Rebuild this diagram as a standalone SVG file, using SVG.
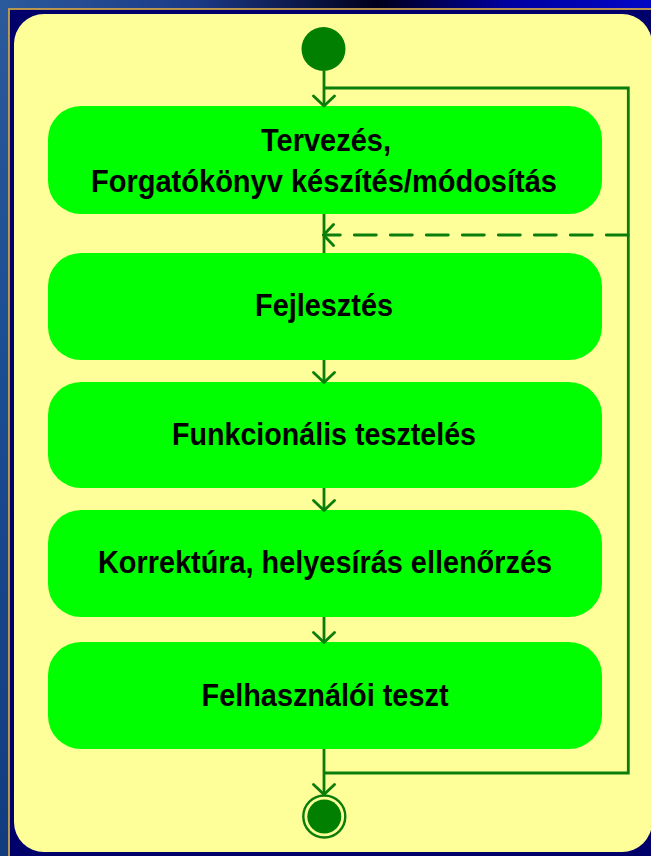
<svg xmlns="http://www.w3.org/2000/svg" width="651" height="856" viewBox="0 0 651 856">
<defs>
<linearGradient id="bgTop" x1="0" y1="0" x2="1" y2="0">
<stop offset="0" stop-color="#2a5a9c"/>
<stop offset="0.3" stop-color="#1c3a86"/>
<stop offset="0.58" stop-color="#00001c"/>
<stop offset="0.78" stop-color="#0000a0"/>
<stop offset="1" stop-color="#0008c4"/>
</linearGradient>
<linearGradient id="bgLeft" x1="0" y1="0" x2="0" y2="1">
<stop offset="0" stop-color="#2a5a9c"/>
<stop offset="0.5" stop-color="#1a4a90"/>
<stop offset="1" stop-color="#123c80"/>
</linearGradient>
<marker id="arr" viewBox="0 0 24 24" refX="22" refY="12" markerWidth="24" markerHeight="24" markerUnits="userSpaceOnUse" orient="auto">
<path d="M12,1.5 L22,12 L12,22.5" fill="none" stroke="#0a7d0a" stroke-width="2.8" stroke-linecap="round" stroke-linejoin="round"/>
</marker>
<style>
.node rect{fill:#00ff00;}
.node text{font-family:"Liberation Sans",Arial,sans-serif;font-weight:bold;font-size:32px;fill:#000;text-anchor:middle;}
.conn{fill:none;stroke:#0a7d0a;stroke-width:2.8;}
.dash{stroke-dasharray:22 14;stroke-linecap:round;}
</style>
</defs>
<rect x="0" y="0" width="651" height="856" fill="url(#bgLeft)"/>
<rect x="0" y="0" width="651" height="10" fill="url(#bgTop)"/>
<rect x="9" y="9" width="660" height="860" fill="#00006b" stroke="#c8a048" stroke-width="1.8"/>
<rect x="14" y="14" width="638" height="838" rx="30" ry="30" fill="#ffff99"/>

<g id="start">
<circle cx="323.5" cy="49" r="22" fill="#007f00"/>
</g>

<g id="n1" class="node">
<rect x="48" y="106" width="554" height="108" rx="33" ry="33"/>
<text x="326" y="151" textLength="130" lengthAdjust="spacingAndGlyphs">Tervezés,</text>
<text x="324" y="192" textLength="466" lengthAdjust="spacingAndGlyphs">Forgatókönyv készítés/módosítás</text>
</g>
<g id="n2" class="node">
<rect x="48" y="253" width="554" height="107" rx="33" ry="33"/>
<text x="324" y="316" textLength="138" lengthAdjust="spacingAndGlyphs">Fejlesztés</text>
</g>
<g id="n3" class="node">
<rect x="48" y="382" width="554" height="106" rx="33" ry="33"/>
<text x="324" y="445" textLength="304" lengthAdjust="spacingAndGlyphs">Funkcionális tesztelés</text>
</g>
<g id="n4" class="node">
<rect x="48" y="510" width="554" height="107" rx="33" ry="33"/>
<text x="325" y="573" textLength="454" lengthAdjust="spacingAndGlyphs">Korrektúra, helyesírás ellenőrzés</text>
</g>
<g id="n5" class="node">
<rect x="48" y="642" width="554" height="107" rx="33" ry="33"/>
<text x="325" y="706" textLength="247" lengthAdjust="spacingAndGlyphs">Felhasználói teszt</text>
</g>

<g id="end">
<circle cx="324.3" cy="816.5" r="21" fill="none" stroke="#0a7d0a" stroke-width="2.4"/>
<circle cx="324.3" cy="816.5" r="17" fill="#007f00"/>
</g>

<g id="connectors">
<path class="conn" d="M324,71 L324,106" marker-end="url(#arr)"/>
<path class="conn" d="M324,88 L628.3,88 L628.3,773 L324,773"/>
<path class="conn" d="M324,214 L324,253"/>
<path class="conn dash" d="M628.3,235 L323.5,235" marker-end="url(#arr)"/>
<path class="conn" d="M324,360 L324,382.5" marker-end="url(#arr)"/>
<path class="conn" d="M324,488 L324,510.5" marker-end="url(#arr)"/>
<path class="conn" d="M324,617 L324,642.5" marker-end="url(#arr)"/>
<path class="conn" d="M324,749 L324,794.5" marker-end="url(#arr)"/>
</g>
</svg>
